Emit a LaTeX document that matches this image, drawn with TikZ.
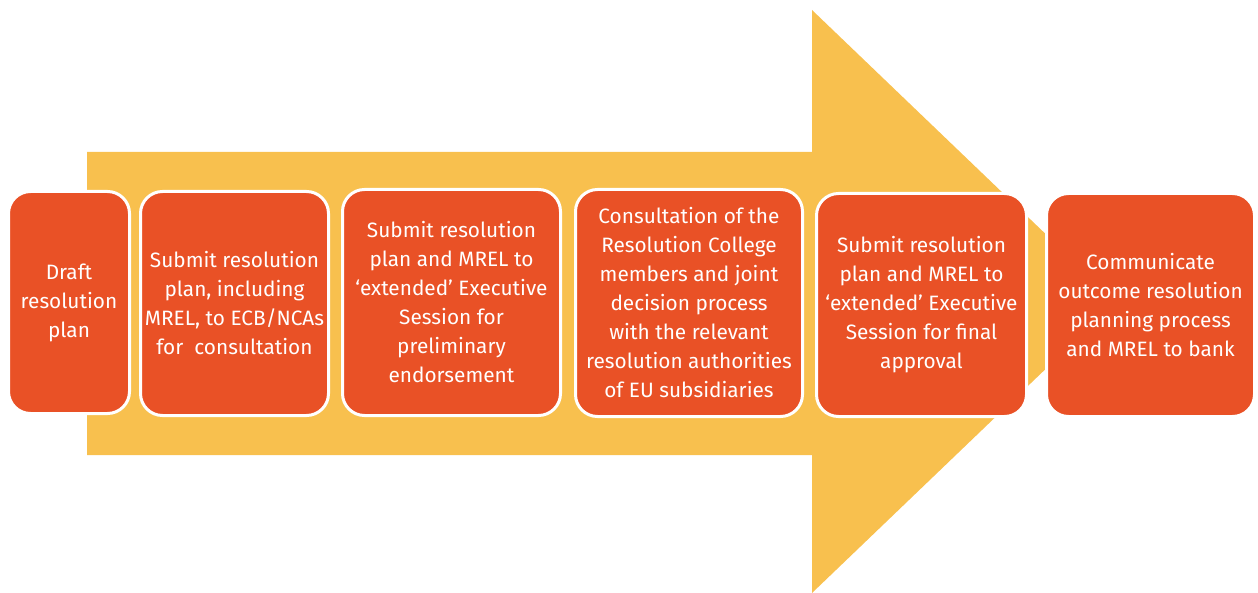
\documentclass[tikz,border=0pt]{standalone}
\usepackage{fontspec}
\setmainfont{Fira Sans}
\definecolor{arr}{HTML}{F8C04E}
\definecolor{boxc}{HTML}{E95126}
\begin{document}
\begin{tikzpicture}[x=1pt,y=-1pt,
 stepbox/.style={draw=white, line width=3pt, fill=boxc, rounded corners=22pt, text=white, align=center, font=\fontsize{20.8}{29}\selectfont, inner sep=0pt}]
\useasboundingbox (0,0) rectangle (1258,593);
\fill[arr] (87,152) -- (812,152) -- (812,10) -- (1116,301.5) -- (812,593) -- (812,455) -- (87,455) -- cycle;
\node[stepbox, minimum width=121pt, minimum height=222pt] (b1) at (69,302.5) {Draft\\resolution\\plan};
\node[stepbox, minimum width=188pt, minimum height=224pt] (b2) at (234.5,303.5) {Submit resolution\\plan, including\\MREL, to ECB/NCAs\\for~ consultation};
\node[stepbox, minimum width=218pt, minimum height=226pt] (b3) at (451.5,302.5) {Submit resolution\\plan and MREL to\\‘extended’ Executive\\Session for\\preliminary\\endorsement};
\node[stepbox, minimum width=227pt, minimum height=227pt] (b4) at (689,303) {Consultation of the\\Resolution College\\members and joint\\decision process\\with the relevant\\resolution authorities\\of EU subsidiaries};
\node[stepbox, minimum width=210pt, minimum height=223pt] (b5) at (921.5,305) {Submit resolution\\plan and MREL to\\‘extended’ Executive\\Session for final\\approval};
\node[stepbox, minimum width=208pt, minimum height=223pt] (b6) at (1150.5,305) {Communicate\\outcome resolution\\planning process\\and MREL to bank};
\end{tikzpicture}
\end{document}
